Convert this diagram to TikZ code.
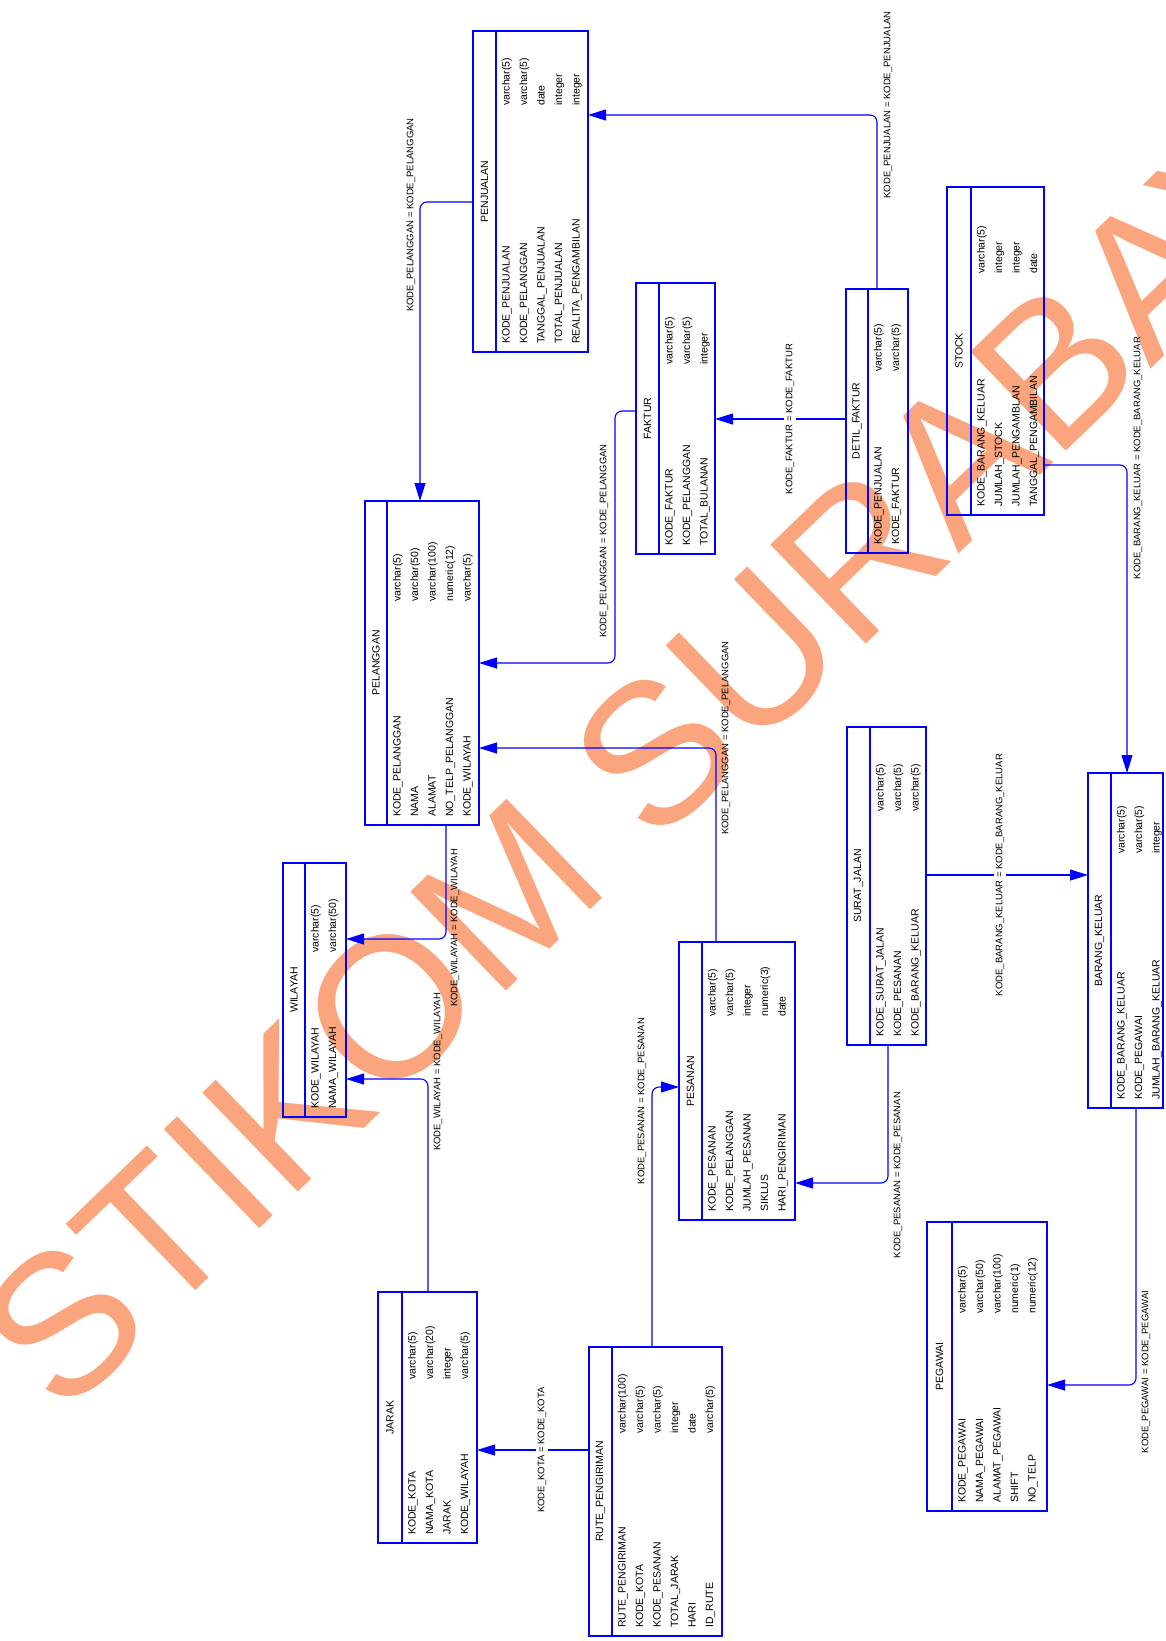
\documentclass[tikz,border=0pt]{standalone}
\usepackage{fontspec}
\setmainfont{Liberation Sans}
\usetikzlibrary{arrows.meta,calc}
\definecolor{wm}{RGB}{250,165,125}
\definecolor{erblue}{RGB}{0,0,255}
\tikzset{
  tline/.style={draw=erblue, line width=1.1pt},
  conn/.style={tline, rounded corners=7pt, -{Triangle[length=18pt,width=11pt]}},
  txt/.style={inner sep=0pt, font=\fontsize{10.5}{12}\selectfont, rotate=90},
  lbl/.style={inner sep=1.5pt, font=\fontsize{9.5}{11}\selectfont, rotate=90},
}
\newcommand\ertable[9]{%
  \node[tline, inner sep=0pt, outer sep=0pt, anchor=north west,
        minimum width={#4pt-#2pt}, minimum height={#5pt-#3pt}] (#1) at (#2,#3) {};
  \draw[tline] (#6,#3) -- (#6,#5);
  \node[txt] (#1-title) at ({(#2+#6)/2},{(#3+#5)/2}) {#8};
  \foreach \nm/\tp [count=\ri from 0] in {#9} {
    \node[txt, anchor=mid west] (#1-n\ri) at ({#6+11+\ri*17.5},{#5-8}) {\nm};
    \node[txt, anchor=mid west] (#1-t\ri) at ({#6+11+\ri*17.5},#7) {\tp};
  }%
}
\begin{document}
\begin{tikzpicture}[x=1pt,y=-1pt]
\useasboundingbox (0,0) rectangle (1165,1641);
\clip (0,0) rectangle (1165,1641);
% watermark
\node[rotate=44, anchor=west, text=wm, inner sep=0pt,
      font=\fontsize{200}{200}\selectfont] (wmark) at (15,1370) {STIKOM SURABAYA};
% tables
\ertable{penj}{473}{31}{588}{352}{496}{106}{PENJUALAN}{KODE\_PENJUALAN/varchar(5),KODE\_PELANGGAN/varchar(5),TANGGAL\_PENJUALAN/date,TOTAL\_PENJUALAN/integer,REALITA\_PENGAMBILAN/integer}
\ertable{faktur}{636}{283}{715}{554}{659}{365}{FAKTUR}{KODE\_FAKTUR/varchar(5),KODE\_PELANGGAN/varchar(5),TOTAL\_BULANAN/integer}
\ertable{detil}{846}{289}{908}{553}{868}{372}{DETIL\_FAKTUR}{KODE\_PENJUALAN/varchar(5),KODE\_FAKTUR/varchar(5)}
\ertable{stock}{947}{187}{1044}{515}{971}{274}{STOCK}{KODE\_BARANG\_KELUAR/varchar(5),JUMLAH\_STOCK/integer,JUMLAH\_PENGAMBLAN/integer,TANGGAL\_PENGAMBILAN/date}
\ertable{pela}{365}{501}{479}{825}{387}{602}{PELANGGAN}{KODE\_PELANGGAN/varchar(5),NAMA/varchar(50),ALAMAT/varchar(100),NO\_TELP\_PELANGGAN/numeric(12),KODE\_WILAYAH/varchar(5)}
\ertable{wil}{283}{863}{346}{1117}{305}{953}{WILAYAH}{KODE\_WILAYAH/varchar(5),NAMA\_WILAYAH/varchar(50)}
\ertable{pesanan}{679}{942}{795}{1220}{702}{1017}{PESANAN}{KODE\_PESANAN/varchar(5),KODE\_PELANGGAN/varchar(5),JUMLAH\_PESANAN/integer,SIKLUS/numeric(3),HARI\_PENGIRIMAN/date}
\ertable{surat}{847}{727}{926}{1045}{870}{812}{SURAT\_JALAN}{KODE\_SURAT\_JALAN/varchar(5),KODE\_PESANAN/varchar(5),KODE\_BARANG\_KELUAR/varchar(5)}
\ertable{barang}{1088}{773}{1163}{1108}{1111}{854}{BARANG\_KELUAR}{KODE\_BARANG\_KELUAR/varchar(5),KODE\_PEGAWAI/varchar(5),JUMLAH\_BARANG\_KELUAR/integer}
\ertable{pegawai}{927}{1222}{1047}{1511}{952}{1314}{PEGAWAI}{KODE\_PEGAWAI/varchar(5),NAMA\_PEGAWAI/varchar(50),ALAMAT\_PEGAWAI/varchar(100),SHIFT/numeric(1),NO\_TELP/numeric(12)}
\ertable{jarak}{378}{1292}{477}{1543}{402}{1380}{JARAK}{KODE\_KOTA/varchar(5),NAMA\_KOTA/varchar(20),JARAK/integer,KODE\_WILAYAH/varchar(5)}
\ertable{rute}{589}{1347}{722}{1636}{612}{1434}{RUTE\_PENGIRIMAN}{RUTE\_PENGIRIMAN/varchar(100),KODE\_KOTA/varchar(5),KODE\_PESANAN/varchar(5),TOTAL\_JARAK/integer,HARI/date,ID\_RUTE/varchar(5)}
% connectors
\coordinate (k1) at (420,202);
\draw[conn] (penj.west |- k1) -- (k1) -- (pela.north -| k1);
\node[lbl] (l1) at (411,215) {KODE\_PELANGGAN = KODE\_PELANGGAN};

\coordinate (k2) at (877,115);
\draw[conn] (detil.north -| k2) -- (k2) -- (penj.east |- k2);
\node[lbl] (l2) at (888,105) {KODE\_PENJUALAN = KODE\_PENJUALAN};

\node[lbl] (l3) at (790,419) {KODE\_FAKTUR = KODE\_FAKTUR};
\draw[tline] (detil.west |- l3) -- (l3);
\draw[conn] (l3) -- (faktur.east |- l3);

\coordinate (k4a) at (615,411);
\coordinate (k4b) at (615,663);
\draw[conn] (faktur.west |- k4a) -- (k4a) -- (k4b) -- (pela.east |- k4b);
\node[lbl] (l4) at (604,541) {KODE\_PELANGGAN = KODE\_PELANGGAN};

\coordinate (k5) at (716,748);
\draw[conn] (pesanan.north -| k5) -- (k5) -- (pela.east |- k5);
\node[lbl] (l5) at (726,738) {KODE\_PELANGGAN = KODE\_PELANGGAN};

\coordinate (k6) at (446,939);
\draw[conn] (pela.south -| k6) -- (k6) -- (wil.east |- k6);
\node[lbl] (l6) at (455,928) {KODE\_WILAYAH = KODE\_WILAYAH};

\coordinate (k7) at (428,1079);
\draw[conn] (jarak.north -| k7) -- (k7) -- (wil.east |- k7);
\node[lbl] (l7) at (438,1072) {KODE\_WILAYAH = KODE\_WILAYAH};

\node[lbl] (l8) at (542,1450) {KODE\_KOTA = KODE\_KOTA};
\draw[tline] (rute.west |- l8) -- (l8);
\draw[conn] (l8) -- (jarak.east |- l8);

\coordinate (k9) at (652,1087);
\draw[conn] (rute.north -| k9) -- (k9) -- (pesanan.west |- k9);
\node[lbl] (l9) at (642,1101) {KODE\_PESANAN = KODE\_PESANAN};

\coordinate (k10) at (888,1183);
\draw[conn] (surat.south -| k10) -- (k10) -- (pesanan.east |- k10);
\node[lbl] (l10) at (898,1175) {KODE\_PESANAN = KODE\_PESANAN};

\node[lbl] (l11) at (1000,875) {KODE\_BARANG\_KELUAR = KODE\_BARANG\_KELUAR};
\draw[tline] (surat.east |- l11) -- (l11);
\draw[conn] (l11) -- (barang.west |- l11);

\coordinate (k12) at (1127,465);
\draw[conn] (stock.east |- k12) -- (k12) -- (barang.north -| k12);
\node[lbl] (l12) at (1138,458) {KODE\_BARANG\_KELUAR = KODE\_BARANG\_KELUAR};

\coordinate (k13) at (1136,1385);
\draw[conn] (barang.south -| k13) -- (k13) -- (pegawai.east |- k13);
\node[lbl] (l13) at (1146,1372) {KODE\_PEGAWAI = KODE\_PEGAWAI};
\end{tikzpicture}
\end{document}
